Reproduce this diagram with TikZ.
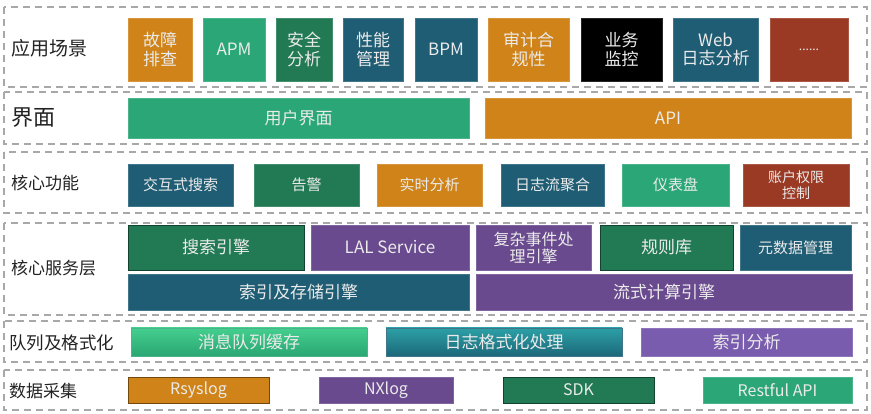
\documentclass[tikz,border=0pt]{standalone}
\usepackage{fontspec}
\setmainfont{Noto Sans CJK SC}
\definecolor{cOr}{HTML}{D08318}
\definecolor{cGr}{HTML}{2BA777}
\definecolor{cDg}{HTML}{217A53}
\definecolor{cTe}{HTML}{1F5D74}
\definecolor{cBr}{HTML}{9B3A24}
\definecolor{cPu}{HTML}{6A4A8E}
\definecolor{cPl}{HTML}{7A5CAE}
\definecolor{cTx}{HTML}{EBEBEB}
\definecolor{cLb}{HTML}{222222}
\definecolor{cDash}{HTML}{A8A8A8}
\definecolor{gGt}{HTML}{44CF8E}
\definecolor{gGb}{HTML}{2AA673}
\definecolor{gTt}{HTML}{2CA0A6}
\definecolor{gTb}{HTML}{1C687A}
\begin{document}
\begin{tikzpicture}[x=1pt,y=-1pt,
  layer/.style={draw=cDash,line width=1.3pt,dash pattern=on 7pt off 5pt},
  lbl/.style={anchor=west,text=cLb,inner sep=0pt,font=\fontsize{17}{19}\selectfont},
  box/.style={fill=#1,draw=#1!85!white,line width=0.6pt,text=cTx,align=center,inner sep=0pt,
    font=\fontsize{17}{18.5}\selectfont},
  dbox/.style={fill=#1,draw=#1!55!black,line width=0.8pt,text=cTx,align=center,inner sep=0pt,
    font=\fontsize{16}{18}\selectfont},
  sz/.style 2 args={minimum width=#1pt,minimum height=#2pt}
]
\useasboundingbox (0,0) rectangle (871,414);
% layers
\draw[layer] (4,7) rectangle (867,87);
\draw[layer] (4,92) rectangle (867,144);
\draw[layer] (4,152) rectangle (867,213);
\draw[layer] (4,223) rectangle (867,315);
\draw[layer] (4,321) rectangle (867,362);
\draw[layer] (4,370) rectangle (867,410);
% labels
\node[lbl,font=\fontsize{19}{21}\selectfont] (l1) at (11,48) {应用场景};
\node[lbl,font=\fontsize{22}{24}\selectfont] (l2) at (11,118) {界面};
\node[lbl] (l3) at (11,183) {核心功能};
\node[lbl] (l4) at (11,268) {核心服务层};
\node[lbl,font=\fontsize{17.5}{19}\selectfont] (l5) at (9,343) {队列及格式化};
\node[lbl] (l6) at (9,391) {数据采集};
% row 1
\node[box=cOr,sz={64}{63}] (a1) at (160,49.5) {故障\\排查};
\node[box=cGr,sz={62}{63}] (a2) at (234,49.5) {APM};
\node[box=cDg,sz={56}{63}] (a3) at (304,49.5) {安全\\分析};
\node[box=cTe,sz={60}{63}] (a4) at (373,49.5) {性能\\管理};
\node[box=cTe,sz={62}{63}] (a5) at (446,49.5) {BPM};
\node[box=cOr,sz={81}{63}] (a6) at (528.5,49.5) {审计合\\规性};
\node[box=black,sz={81}{63}] (a7) at (621.5,49.5) {业务\\监控};
\node[box=cTe,sz={85}{63}] (a8) at (715.5,49.5) {Web\\日志分析};
\node[box=cBr,sz={78}{63}] (a9) at (809,49.5) {\fontsize{12}{14}\selectfont ......};
% row 2
\node[box=cGr,sz={341}{40}] (b1) at (298.5,118) {用户界面};
\node[box=cOr,sz={366}{40}] (b2) at (668,118) {API};
% row 3
\node[box=cTe,sz={105}{42},font=\fontsize{15}{17}\selectfont] (c1) at (180.5,185) {交互式搜索};
\node[box=cDg,sz={105}{42},font=\fontsize{15}{17}\selectfont] (c2) at (306.5,185) {告警};
\node[box=cOr,sz={105}{42},font=\fontsize{15}{17}\selectfont] (c3) at (429.5,185) {实时分析};
\node[box=cTe,sz={103}{42},font=\fontsize{15}{17}\selectfont] (c4) at (552.5,185) {日志流聚合};
\node[box=cGr,sz={107}{42},font=\fontsize{15}{17}\selectfont] (c5) at (675.5,185) {仪表盘};
\node[box=cBr,sz={106}{42},font=\fontsize{14}{16}\selectfont] (c6) at (796,185) {账户权限\\控制};
% row 4
\node[dbox=cDg,sz={176}{45},font=\fontsize{17}{19}\selectfont] (d1) at (216,247.5) {搜索引擎};
\node[box=cPu,sz={158}{45},font=\fontsize{17}{19}\selectfont] (d2) at (390,247.5) {LAL Service};
\node[box=cPu,sz={115}{45},font=\fontsize{16}{17}\selectfont] (d3) at (533.5,247.5) {复杂事件处\\理引擎};
\node[dbox=cDg,sz={133}{45},font=\fontsize{17}{19}\selectfont] (d4) at (666.5,247.5) {规则库};
\node[box=cTe,sz={111}{45},font=\fontsize{15}{17}\selectfont] (d5) at (795.5,247.5) {元数据管理};
\node[box=cTe,sz={341}{36},font=\fontsize{17}{19}\selectfont] (d6) at (298.5,292) {索引及存储引擎};
\node[box=cPu,sz={376}{36},font=\fontsize{17}{19}\selectfont] (d7) at (664,292) {流式计算引擎};
% row 5
\node[box=cGr,top color=gGt,bottom color=gGb,sz={236}{28},font=\fontsize{17}{19}\selectfont] (e1) at (249,342) {消息队列缓存};
\node[box=cTe,top color=gTt,bottom color=gTb,sz={236}{28},font=\fontsize{17}{19}\selectfont] (e2) at (504,342) {日志格式化处理};
\node[box=cPl,sz={211}{28},font=\fontsize{17}{19}\selectfont] (e3) at (746.5,342) {索引分析};
% row 6
\node[dbox=cOr,sz={141}{26}] (f1) at (198.5,390) {Rsyslog};
\node[box=cPu,sz={134}{26},font=\fontsize{16}{18}\selectfont] (f2) at (386,390) {NXlog};
\node[dbox=cDg,sz={151}{26}] (f3) at (578.5,390) {SDK};
\node[box=cGr,sz={149}{26},font=\fontsize{16}{18}\selectfont] (f4) at (777.5,390) {Restful API};
\end{tikzpicture}
\end{document}
